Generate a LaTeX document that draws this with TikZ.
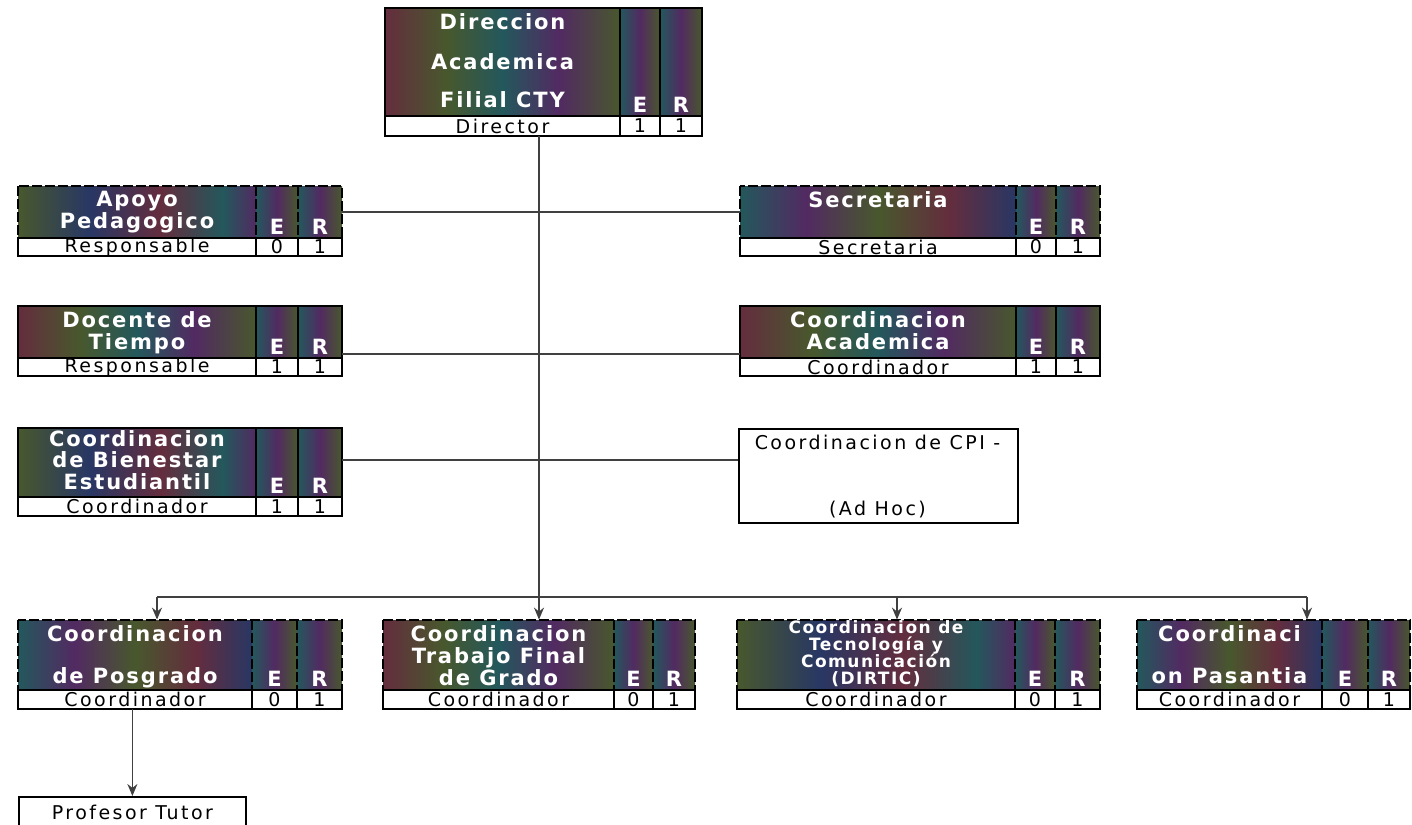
\documentclass[tikz,border=0pt]{standalone}
\usepackage{fontspec}
\newfontfamily\hdrfont[LetterSpace=9]{DejaVu Sans}
\newfontfamily\rowfont[LetterSpace=13]{DejaVu Sans}
\usetikzlibrary{fit,arrows.meta}
\definecolor{cM}{RGB}{100,45,62}
\definecolor{cT}{RGB}{35,88,92}
\definecolor{cO}{RGB}{72,88,45}
\definecolor{cP}{RGB}{82,42,98}
\definecolor{cN}{RGB}{40,55,100}
\pgfdeclarehorizontalshading{hA}{100bp}{color(0bp)=(cM); color(25bp)=(cM); color(38bp)=(cO); color(50bp)=(cT); color(62bp)=(cP); color(75bp)=(cO); color(100bp)=(cO)}
\pgfdeclarehorizontalshading{hB}{100bp}{color(0bp)=(cT); color(25bp)=(cT); color(37bp)=(cP); color(50bp)=(cO); color(63bp)=(cM); color(75bp)=(cN); color(100bp)=(cN)}
\pgfdeclarehorizontalshading{hC}{100bp}{color(0bp)=(cO); color(25bp)=(cO); color(40bp)=(cN); color(55bp)=(cM); color(68bp)=(cT); color(75bp)=(cP); color(100bp)=(cP)}
\pgfdeclarehorizontalshading{hE}{100bp}{color(0bp)=(cT); color(25bp)=(cT); color(50bp)=(cP); color(75bp)=(cO); color(100bp)=(cO)}
\newcommand\geo[7]{\def\xa{#1}\def\xb{#2}\def\xc{#3}\def\xd{#4}\def\ya{#5}\def\yb{#6}\def\yc{#7}}
\newcommand\orgbox[8][2]{%
  \path[shading=#4] (\xa,\ya) rectangle (\xb,\yb);
  \path[shading=hE] (\xb,\ya) rectangle (\xc,\yb);
  \path[shading=hE] (\xc,\ya) rectangle (\xd,\yb);
  \draw[#3] (\xa,\ya) rectangle (\xd,\yb) (\xb,\ya) -- (\xb,\yb) (\xc,\ya) -- (\xc,\yb);
  \draw[rowbrd] (\xa,\yb) rectangle (\xd,\yc);
  \draw[rowbrd] (\xb,\yb) -- (\xb,\yc) (\xc,\yb) -- (\xc,\yc);
  \node[hdrtxt,anchor=north] (#2h) at ({(\xa+\xb)/2},{\ya+#1}) {#5};
  \node[hdrtxt,anchor=south] (#2e) at ({(\xb+\xc)/2},\yb) {E};
  \node[hdrtxt,anchor=south] (#2r) at ({(\xc+\xd)/2},\yb) {R};
  \node[rowtxt] (#2t) at ({(\xa+\xb)/2},{(\yb+\yc)/2}) {#6};
  \node[rowtxt] (#2v) at ({(\xb+\xc)/2},{(\yb+\yc)/2}) {#7};
  \node[rowtxt] (#2w) at ({(\xc+\xd)/2},{(\yb+\yc)/2}) {#8};
  \node[fit={(\xa,\ya) (\xd,\yc)}, inner sep=0pt] (#2) {};
}
\tikzset{
  hdrtxt/.style={text=white, font=\hdrfont\bfseries\fontsize{10.5}{12}\selectfont, align=center, inner sep=1.5pt},
  rowtxt/.style={text=black, font=\rowfont\fontsize{9.5}{10}\selectfont, inner sep=0pt},
  brd/.style={line width=1.2pt, draw=black},
  dashbrd/.style={brd, dash pattern=on 5pt off 1.5pt},
  rowbrd/.style={line width=0.9pt, draw=black},
  conn/.style={line width=0.75pt, draw=black!75},
  arr/.style={conn, -{Stealth[length=6pt,width=5pt]}},
}
\begin{document}
\begin{tikzpicture}[x=0.5pt,y=-0.5pt]
\clip (0,0) rectangle (1412,824);
\fill[white] (0,0) rectangle (1412,824);

\geo{385}{620}{660}{702}{8}{116}{136}
\orgbox{dir}{brd}{hA}{Direccion\\[8pt]Academica\\[7pt]Filial CTY}{Director}{1}{1}

\geo{18}{256}{298}{342}{186}{238}{256}
\orgbox{apo}{dashbrd}{hC}{Apoyo\\[-1pt]Pedagogico}{Responsable}{0}{1}

\geo{740}{1016}{1056}{1100}{186}{238}{256}
\orgbox{sec}{dashbrd}{hB}{Secretaria}{Secretaria}{0}{1}

\geo{18}{256}{298}{342}{306}{358}{376}
\orgbox{doc}{brd}{hA}{Docente de\\[-1pt]Tiempo}{Responsable}{1}{1}

\geo{740}{1016}{1056}{1100}{306}{358}{376}
\orgbox{aca}{brd}{hA}{Coordinacion\\[-1pt]Academica}{Coordinador}{1}{1}

\geo{18}{256}{298}{342}{428}{497}{516}
\orgbox[-1]{bie}{brd}{hC}{Coordinacion\\[-1.2pt]de Bienestar\\[-1.2pt]Estudiantil}{Coordinador}{1}{1}

\geo{18}{252}{297}{342}{620}{690}{709}
\orgbox{pos}{dashbrd}{hB}{Coordinacion\\[9pt]de Posgrado}{Coordinador}{0}{1}

\geo{383}{614}{653}{695}{620}{690}{709}
\orgbox{tfg}{dashbrd}{hA}{Coordinacion\\[-1pt]Trabajo Final\\[-1pt]de Grado}{Coordinador}{0}{1}

\geo{737}{1015}{1055}{1100}{620}{690}{709}
\orgbox[-3]{tic}{dashbrd}{hC}{\fontsize{8.5}{8.5}\selectfont Coordinacion de\\[-3.5pt]\fontsize{8.5}{8.5}\selectfont Tecnología y\\[-3.5pt]\fontsize{8.5}{8.5}\selectfont Comunicación\\[-3.5pt]\fontsize{8.5}{8.5}\selectfont (DIRTIC)}{Coordinador}{0}{1}

\geo{1137}{1322}{1368}{1410}{620}{690}{709}
\orgbox{pas}{dashbrd}{hB}{Coordinaci\\[9pt]on Pasantia}{Coordinador}{0}{1}

% CPI box
\node[draw, line width=1.2pt, fill=white, minimum width=139.5pt, minimum height=47pt, inner sep=0pt, anchor=north west] (cpi) at (738,428) {};
\node[rowtxt] (cpia) at (877.5,442) {Coordinacion de CPI -};
\node[rowtxt] (cpib) at (877.5,510) {(Ad Hoc)};

% Profesor Tutor
\node[rowtxt, draw, line width=0.9pt, minimum width=113.5pt, minimum height=16pt, anchor=north west] (tut) at (18,796) {Profesor Tutor};

% connectors
\draw[conn] ([yshift=4.5pt]apo.east) -- ([yshift=4.5pt]apo.east -| sec.west);
\draw[conn] ([yshift=-6.5pt]doc.east) -- ([yshift=-6.5pt]doc.east -| aca.west);
\draw[conn] ([yshift=6pt]bie.east) -- ([yshift=6pt]bie.east -| cpi.west);
\draw[arr] (dir.south -| tfg.north) -- (tfg.north);
\coordinate (busL) at (157,597);
\coordinate (busM) at (897,597);
\coordinate (busR) at (1307,597);
\draw[conn] (busL) -- (busR);
\draw[arr] (busL) -- (busL |- pos.north);
\draw[arr] (busM) -- (busM |- tic.north);
\draw[arr] (busR) -- (busR |- pas.north);
\draw[arr] (tut.north |- pos.south) -- (tut.north);
\end{tikzpicture}
\end{document}
